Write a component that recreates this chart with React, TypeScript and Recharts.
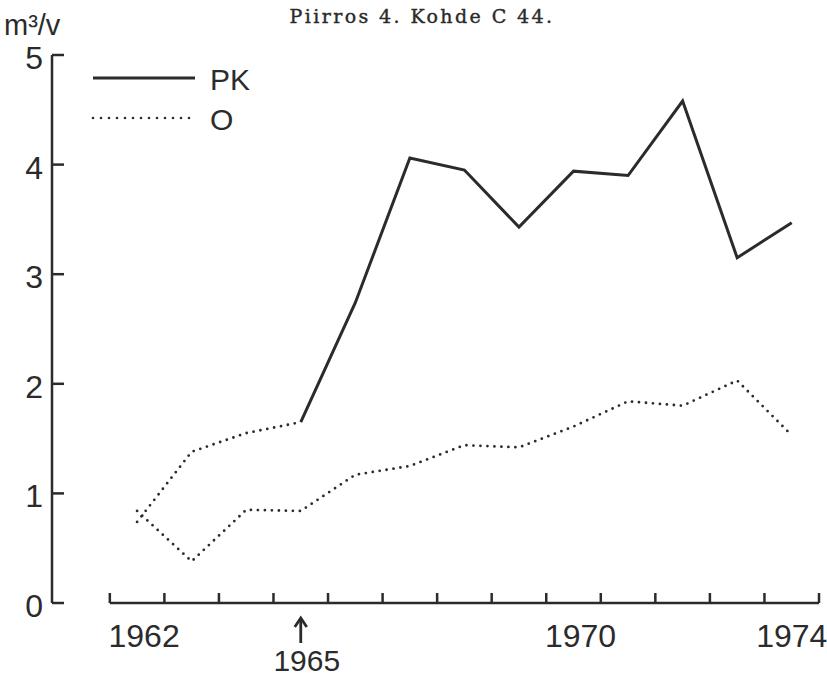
import { LineChart, Line, XAxis, YAxis, Legend, ReferenceLine } from "recharts"

const years = [1962, 1963, 1964, 1965, 1966, 1967, 1968, 1969, 1970, 1971, 1972, 1973, 1974]
const pkValues = [0.74, 1.38, 1.55, 1.65, 2.74, 4.06, 3.95, 3.43, 3.94, 3.9, 4.58, 3.15, 3.47]
const oValues = [0.84, 0.38, 0.85, 0.84, 1.17, 1.25, 1.44, 1.42, 1.61, 1.84, 1.8, 2.03, 1.53]

// PK drawn solid from this year on, dotted before it
const measuredFrom = 1965

const yTicks = [0, 1, 2, 3, 4, 5]
const yearBoundaries = [
  1961.5, 1962.5, 1963.5, 1964.5, 1965.5, 1966.5, 1967.5, 1968.5, 1969.5, 1970.5, 1971.5, 1972.5, 1973.5, 1974.5,
]
const labelYears = [1962, 1970, 1974]
const markedYear = 1965
const legendOrder = ["PK", "O"]

const data = years.map((year, i) => ({
  year,
  pkEarly: year <= measuredFrom ? pkValues[i] : null,
  pk: year >= measuredFrom ? pkValues[i] : null,
  o: oValues[i],
}))

const INK = "#2b2b2b"
const FONT = "'Liberation Sans', Arial, sans-serif"

function XTick(props: any) {
  const { x, y, payload } = props
  const v = payload.value
  if (yearBoundaries.includes(v)) {
    return <line x1={x} y1={y} x2={x} y2={y - 10} stroke={INK} strokeWidth={2.5} />
  }
  if (v === markedYear) {
    return (
      <g>
        <line x1={x} y1={y + 40} x2={x} y2={y + 16} stroke={INK} strokeWidth={2.8} />
        <polyline points={`${x - 6},${y + 24} ${x},${y + 15} ${x + 6},${y + 24}`} fill="none" stroke={INK} strokeWidth={2.8} />
        <text x={x + 6} y={y + 68} textAnchor="middle" fontFamily={FONT} fontSize={30} fill={INK}>
          {v}
        </text>
      </g>
    )
  }
  if (labelYears.includes(v)) {
    const dx = v === 1974 ? 0 : 7
    return (
      <text x={x + dx} y={y + 44} textAnchor="middle" fontFamily={FONT} fontSize={32} fill={INK}>
        {v}
      </text>
    )
  }
  return null
}

function YTick(props: any) {
  const { x, y, payload } = props
  return (
    <g>
      <line x1={x} y1={y} x2={x + 12} y2={y} stroke={INK} strokeWidth={2.5} />
      <text x={x - 9} y={y + 14} textAnchor="end" fontFamily={FONT} fontSize={32} fill={INK}>
        {payload.value}
      </text>
    </g>
  )
}

function renderLegend(props: any) {
  const payload = props.payload || []
  const items = legendOrder.map((name) => payload.find((p: any) => p.value === name)).filter(Boolean)
  return (
    <svg width={220} height={96}>
      {items.map((entry: any, i: number) => {
        const y = 20 + i * 40
        const dotted = entry.value === "O"
        return (
          <g key={entry.value}>
            <line
              x1={3}
              x2={105}
              y1={y}
              y2={y}
              stroke={INK}
              strokeWidth={dotted ? 2.6 : 2.8}
              strokeDasharray={dotted ? "0 8" : undefined}
              strokeLinecap={dotted ? "round" : "butt"}
            />
            <text x={120} y={y + 12} fontFamily={FONT} fontSize={30} fill={INK}>
              {entry.value}
            </text>
          </g>
        )
      })}
    </svg>
  )
}

export default function App() {
  return (
    <div style={{ position: "absolute", left: 0, top: 0, width: 827, height: 678, background: "#fff" }}>
      <LineChart width={827} height={678} data={data} margin={{ top: 55, right: 8, bottom: 0, left: 0 }}>
        <XAxis
          dataKey="year"
          type="number"
          domain={[1960.44, 1974.5]}
          allowDataOverflow
          ticks={[...yearBoundaries, ...labelYears, markedYear]}
          interval={0}
          axisLine={false}
          tickLine={false}
          tickSize={0}
          tickMargin={0}
          height={75}
          tick={<XTick />}
        />
        <YAxis
          domain={[0, 5]}
          ticks={yTicks}
          width={52}
          axisLine={{ stroke: INK, strokeWidth: 2.5 }}
          tickLine={false}
          tickSize={0}
          tickMargin={0}
          tick={<YTick />}
        />
        <ReferenceLine
          segment={[
            { x: 1961.5, y: 0 },
            { x: 1974.5, y: 0 },
          ]}
          stroke={INK}
          strokeWidth={2.5}
        />
        <Legend
          content={renderLegend}
          layout="vertical"
          align="center"
          verticalAlign="middle"
          wrapperStyle={{ top: 58, left: 90, width: 220, height: 96 }}
        />
        <Line
          dataKey="pkEarly"
          name="PK early"
          legendType="none"
          type="linear"
          stroke={INK}
          strokeWidth={2.8}
          strokeDasharray="0 7"
          strokeLinecap="round"
          dot={false}
          activeDot={false}
          isAnimationActive={false}
        />
        <Line
          dataKey="pk"
          name="PK"
          type="linear"
          stroke={INK}
          strokeWidth={3}
          dot={false}
          activeDot={false}
          isAnimationActive={false}
        />
        <Line
          dataKey="o"
          name="O"
          type="linear"
          stroke={INK}
          strokeWidth={2.8}
          strokeDasharray="0 7"
          strokeLinecap="round"
          dot={false}
          activeDot={false}
          isAnimationActive={false}
        />
      </LineChart>
      <svg width={827} height={678} style={{ position: "absolute", left: 0, top: 0, pointerEvents: "none" }}>
        <text
          x={422}
          y={23}
          textAnchor="middle"
          fontFamily="'DejaVu Serif', serif"
          fontSize={19}
          letterSpacing={2.4}
          fill={INK}
          stroke={INK}
          strokeWidth={0.4}
        >
          Piirros 4. Kohde C 44.
        </text>
        <text x={4} y={35} fontFamily={FONT} fontSize={29} fill={INK}>
          m³/v
        </text>
      </svg>
    </div>
  )
}
